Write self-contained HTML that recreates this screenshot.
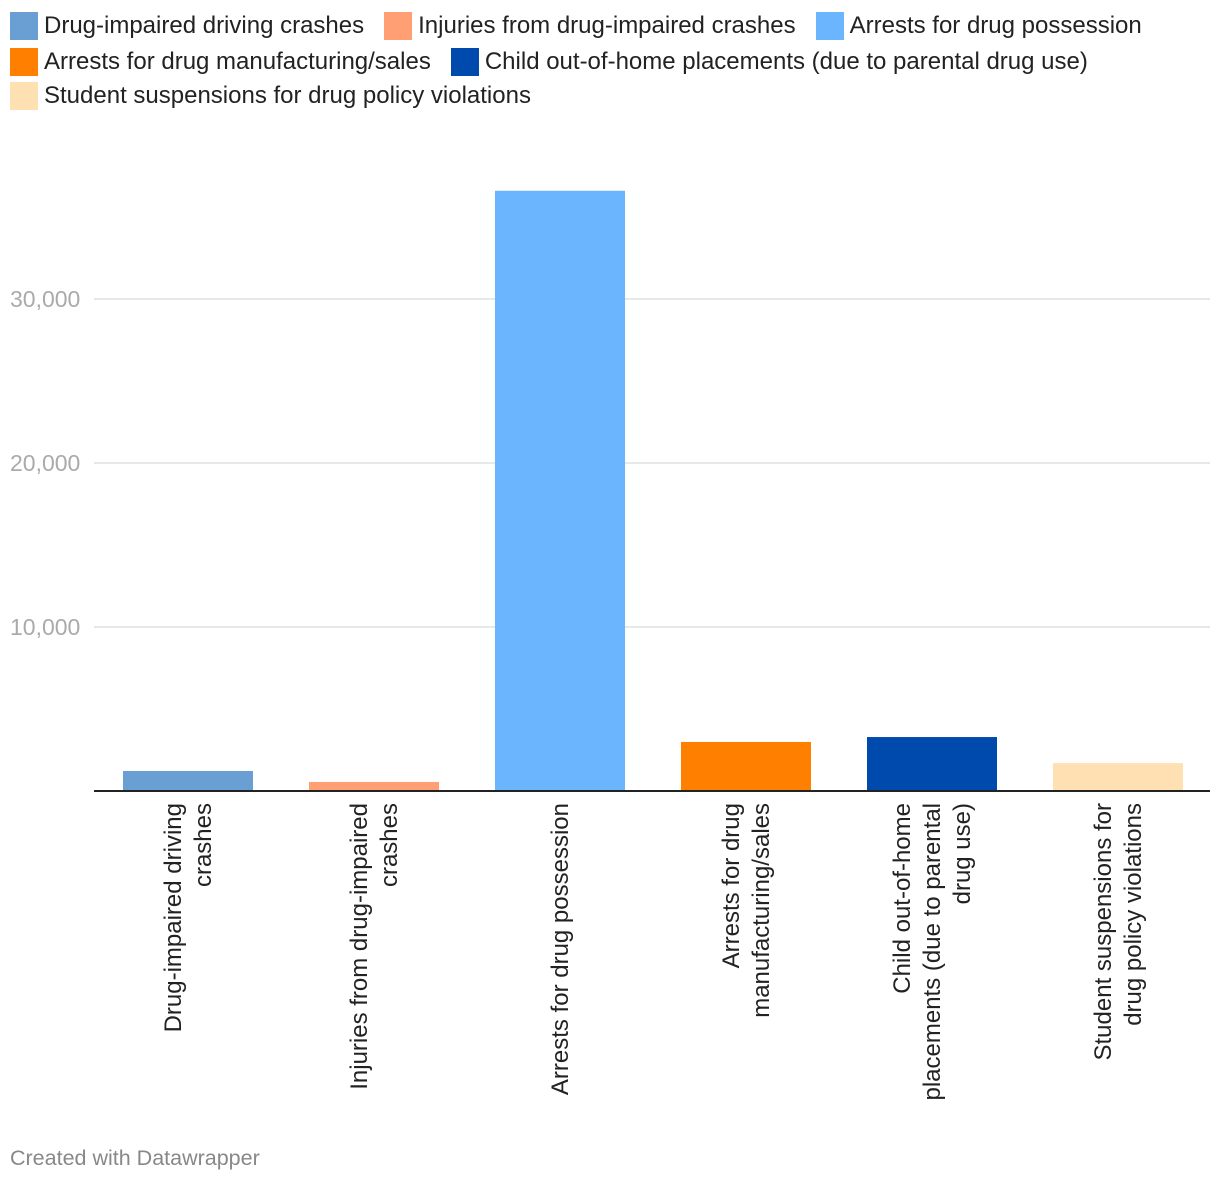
<!DOCTYPE html>
<html><head><meta charset="utf-8">
<style>
body{margin:0;background:#fff;font-family:"Liberation Sans",Roboto,sans-serif;}
#wrap{position:relative;width:1220px;height:1184px;overflow:hidden;}
.row{position:absolute;left:10px;height:28px;display:flex;align-items:center;font-size:24px;color:#222;white-space:nowrap;}
.li{display:inline-flex;align-items:center;margin-right:20px;white-space:nowrap;}
.sw{width:28px;height:28px;margin-right:6px;display:inline-block;}
.credit{position:absolute;left:10px;top:1146px;font-size:21.5px;color:#888;}
svg{position:absolute;left:0;top:0;}
</style></head><body>
<div id="wrap">
<div>
<div class="row" style="top:12px"><span class="li"><span class="sw" style="background:#6a9fd4"></span>Drug-impaired driving crashes</span><span class="li"><span class="sw" style="background:#ff9f73"></span>Injuries from drug-impaired crashes</span><span class="li"><span class="sw" style="background:#6bb5ff"></span>Arrests for drug possession</span></div>
<div class="row" style="top:48px"><span class="li"><span class="sw" style="background:#ff7f00"></span>Arrests for drug manufacturing/sales</span><span class="li"><span class="sw" style="background:#004aad"></span>Child out-of-home placements (due to parental drug use)</span></div>
<div class="row" style="top:82px"><span class="li"><span class="sw" style="background:#ffe0b2"></span>Student suspensions for drug policy violations</span></div>
</div>
<svg id="svg" width="1220" height="1184"></svg>
<div class="credit">Created with Datawrapper</div>
</div>
<script>
const categories=[["Drug-impaired driving","crashes"],["Injuries from drug-impaired","crashes"],["Arrests for drug possession"],["Arrests for drug","manufacturing/sales"],["Child out-of-home","placements (due to parental","drug use)"],["Student suspensions for","drug policy violations"]];
const values=[1220,550,36600,2990,3290,1700];
const colors=["#6a9fd4","#ff9f73","#6bb5ff","#ff7f00","#004aad","#ffe0b2"];
const ticks=[10000,20000,30000];
const tickLabels=["10,000","20,000","30,000"];
const NS="http://www.w3.org/2000/svg";
const svg=document.getElementById('svg');
const x0=95,band=186,y0=791,pxPer=164/10000;
function y(v){return y0-v*pxPer;}
function xc(i){return x0+band*i+band/2;}
function mk(t,a){const e=document.createElementNS(NS,t);for(const k in a)e.setAttribute(k,a[k]);svg.appendChild(e);return e;}
ticks.forEach((t,i)=>{
 const l=mk('line',{x1:94,x2:1210,y1:y(t),y2:y(t),stroke:'#e0e0e0','stroke-width':1.5});
 
 
 const tx=mk('text',{x:10,y:y(t)+8,'font-size':23,fill:'#aaa','font-family':'Liberation Sans, sans-serif'});
 tx.textContent=tickLabels[i];
 
 
});
values.forEach((v,i)=>{
 const r=mk('rect',{x:xc(i)-65,y:y(v),width:130,height:y0-y(v),fill:colors[i]});
 
 
 const lines=categories[i];
 const g=document.createElementNS(NS,'g');
 g.setAttribute('transform','translate('+xc(i)+',803) rotate(-90)');
 
 
 svg.appendChild(g);
 lines.forEach((s,j)=>{
  const t=document.createElementNS(NS,'text');
  t.setAttribute('x',0);
  t.setAttribute('y',(j-(lines.length-1)/2)*30+8);
  t.setAttribute('text-anchor','end');
  t.setAttribute('font-size',24);
  t.setAttribute('fill','#222');
  t.setAttribute('font-family','Liberation Sans, sans-serif');
  t.textContent=s;
  g.appendChild(t);
 });
});
const ax=mk('line',{x1:94,x2:1210,y1:y0,y2:y0,stroke:'#222','stroke-width':2});


</script>
</body></html>
